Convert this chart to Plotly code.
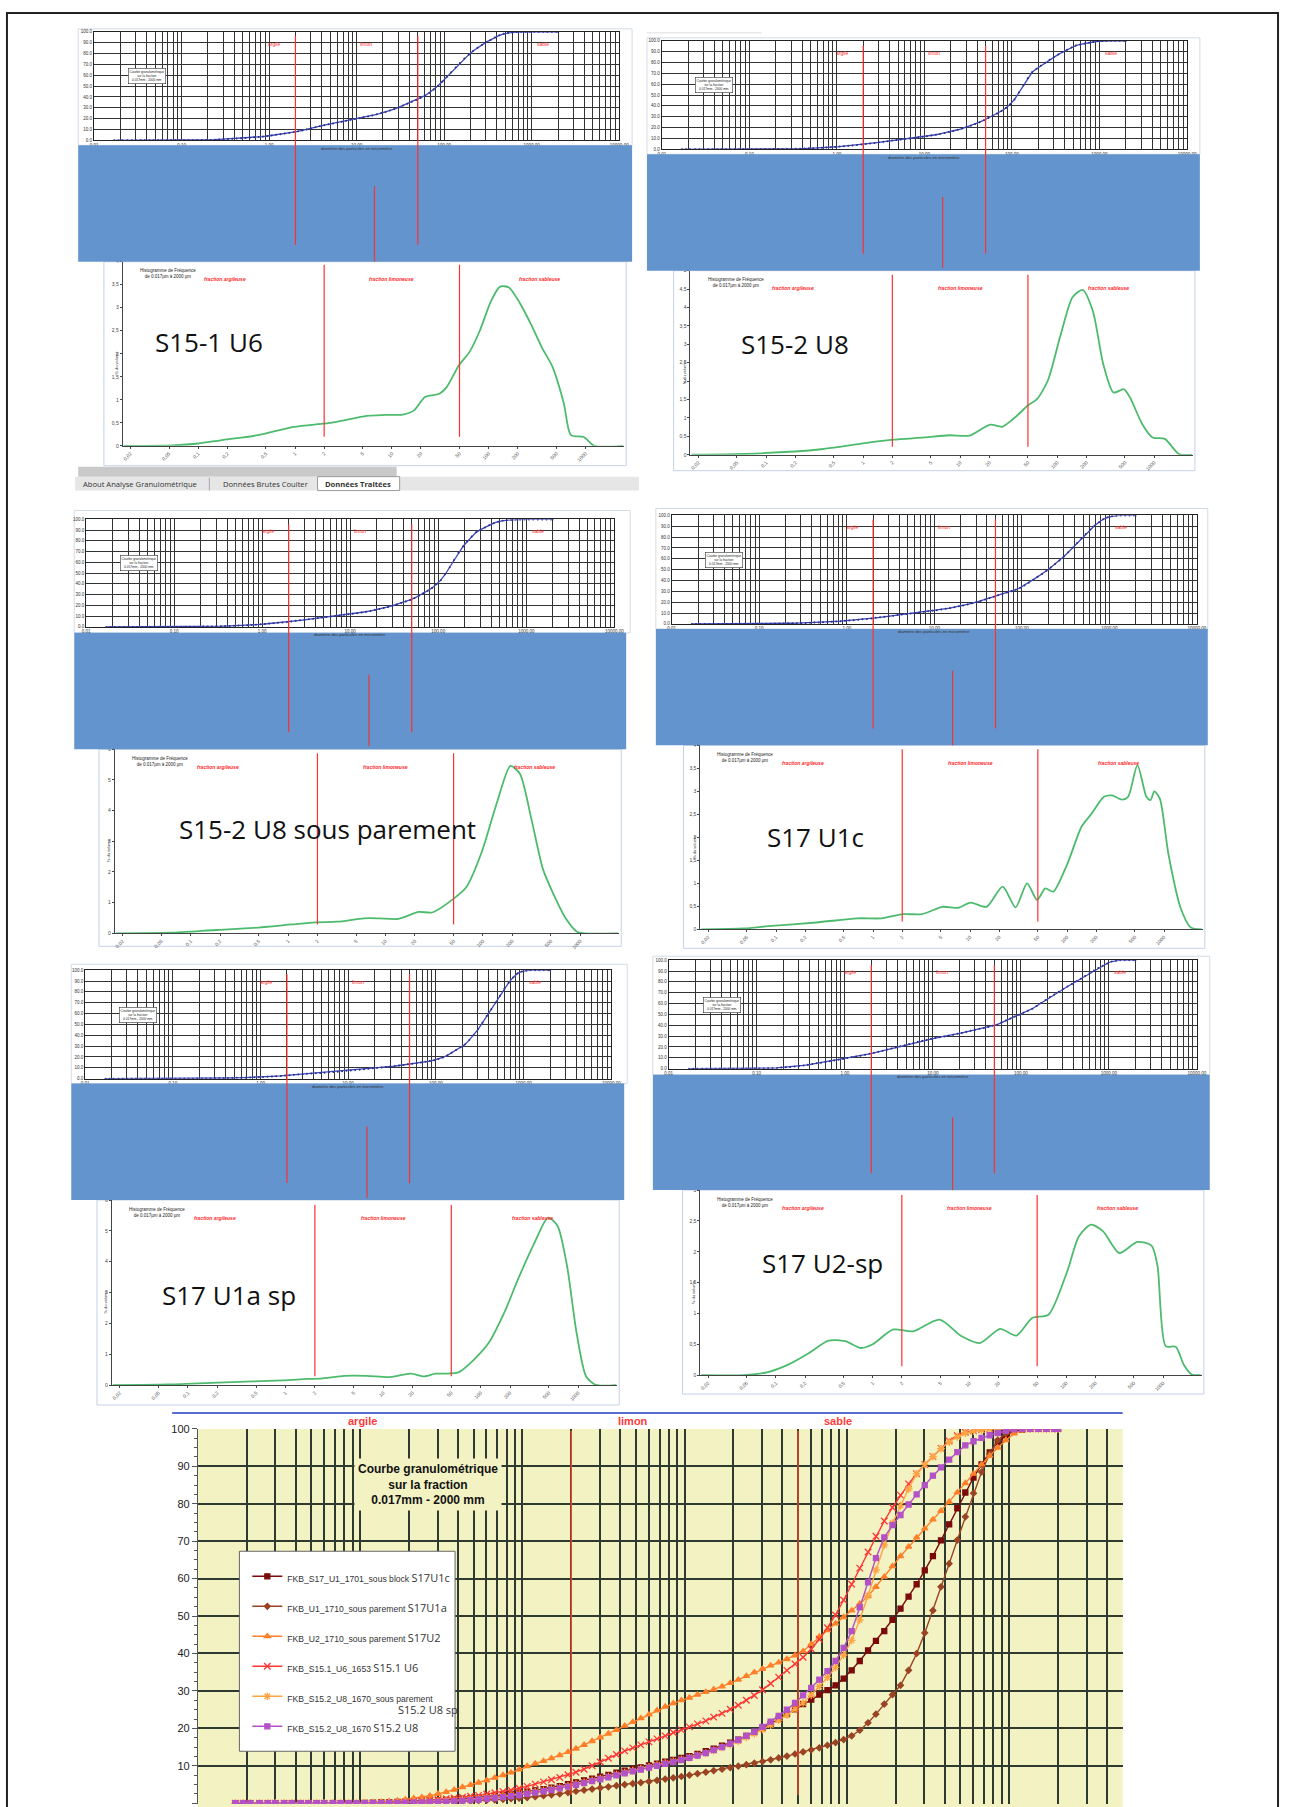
import math
import plotly.graph_objects as go

W, H = 1290, 1807

# ---------------- DATA ----------------
# particle size classes (µm) of the cumulative curves (one row per decade)
size_um = [0.017, 0.019, 0.021, 0.024, 0.027, 0.030, 0.034, 0.038, 0.043, 0.048,
           0.054, 0.060, 0.068, 0.076, 0.085, 0.095, 0.107, 0.120, 0.135, 0.151,
           0.17, 0.19, 0.214, 0.24, 0.269, 0.302, 0.339, 0.38, 0.427, 0.479,
           0.537, 0.603, 0.676, 0.759, 0.851, 0.955, 1.07, 1.20, 1.35, 1.51,
           1.70, 1.91, 2.14, 2.40, 2.69, 3.02, 3.39, 3.80, 4.27, 4.79,
           5.37, 6.03, 6.76, 7.59, 8.51, 9.55, 10.7, 12.0, 13.5, 15.1,
           17.0, 19.1, 21.4, 24.0, 26.9, 30.2, 33.9, 38.0, 42.7, 47.9,
           53.7, 60.3, 67.6, 75.9, 85.1, 95.5, 107, 120, 135, 151,
           170, 191, 214, 240, 269, 302, 339, 380, 427, 479,
           537, 603, 676, 759, 851, 955, 1072, 1202, 1349, 1514,
           1698, 1905, 2000]

# cumulative passing (%)
cum_S17U1c = [0, 0, 0, 0, 0, 0, 0, 0, 0, 0, 0, 0, 0, 0, 0, 0.05, 0.1, 0.15, 0.2, 0.27,
              0.35, 0.42, 0.5, 0.6, 0.7, 0.8, 0.9, 1.05, 1.2, 1.35, 1.5, 1.75, 2.0, 2.25, 2.5, 2.8, 3.1, 3.45, 3.8, 4.2,
              4.6, 5.1, 5.6, 6.1, 6.6, 7.1, 7.6, 8.15, 8.7, 9.15, 9.6, 10.1, 10.6, 11.1, 11.6, 12.1, 12.6, 13.2, 13.9, 14.6,
              15.4, 16.2, 17.0, 18.0, 19.0, 20.1, 21.2, 22.5, 23.8, 25.1, 26.5, 27.7, 29.0, 30.2, 31.5, 33.3, 35.5, 38.0,
              40.8, 43.4,
              46.0, 49.0, 52.0, 55.2, 58.5, 62.2, 66.0, 70.2, 74.5, 78.8, 83.0, 87.0, 90.5, 93.7, 96.5, 98.3, 99.4, 99.8,
              100, 100,
              100, 100, 100]
cum_S17U1a = [0, 0, 0, 0, 0, 0, 0, 0, 0, 0, 0, 0, 0, 0, 0, 0, 0, 0, 0, 0,
              0, 0.05, 0.1, 0.15, 0.2, 0.27, 0.35, 0.42, 0.5, 0.6, 0.7, 0.8, 0.9, 1.05, 1.2, 1.35, 1.5, 1.75, 2.0, 2.25,
              2.5, 2.85, 3.2, 3.5, 3.8, 4.1, 4.4, 4.7, 5.0, 5.25, 5.5, 5.8, 6.1, 6.45, 6.8, 7.15, 7.5, 7.9, 8.3, 8.7,
              9.1, 9.5, 9.9, 10.3, 10.7, 11.15, 11.6, 12.1, 12.6, 13.15, 13.7, 14.25, 14.8, 15.5, 16.2, 17.0, 18.0, 19.5,
              21.5, 23.8,
              26.5, 29.0, 31.5, 35.5, 40.0, 45.5, 51.5, 57.8, 64.0, 70.3, 76.5, 82.8, 88.5, 93.3, 97.0, 98.8, 99.7, 100,
              100, 100,
              100, 100, 100]
cum_S17U2 = [0, 0, 0, 0, 0, 0, 0, 0, 0, 0, 0, 0, 0, 0, 0, 0.05, 0.15, 0.25, 0.35, 0.5,
             0.7, 1.0, 1.3, 1.6, 2.0, 2.5, 3.0, 3.6, 4.3, 4.9, 5.5, 6.1, 6.8, 7.5, 8.2, 9.0, 9.9, 10.6, 11.3, 12.0,
             12.8, 13.7, 14.6, 15.6, 16.6, 17.6, 18.6, 19.6, 20.7, 21.7, 22.7, 23.7, 24.8, 25.8, 26.7, 27.5, 28.2, 29.0,
             29.7, 30.4,
             31.2, 32.1, 33.0, 34.0, 35.0, 35.9, 36.8, 37.6, 38.5, 39.5, 40.6, 42.5, 44.5, 46.2, 48.0, 49.7, 51.5, 53.3,
             55.3, 57.8,
             60.5, 63.3, 66.0, 68.5, 71.0, 73.4, 75.8, 78.1, 80.5, 83.0, 85.5, 88.0, 90.5, 92.8, 95.0, 97.0, 98.8, 99.6,
             100, 100,
             100, 100, 100]
cum_S151U6 = [0, 0, 0, 0, 0, 0, 0, 0, 0, 0, 0, 0, 0, 0, 0, 0, 0, 0, 0.05, 0.1,
              0.2, 0.3, 0.4, 0.6, 0.8, 1.0, 1.2, 1.4, 1.6, 1.85, 2.1, 2.45, 2.8, 3.1, 3.5, 4.0, 4.5, 5.1, 5.7, 6.3,
              6.9, 7.6, 8.3, 9.1, 10.0, 11.0, 12.0, 13.0, 14.0, 14.8, 15.6, 16.4, 17.2, 18.0, 18.9, 19.6, 20.4, 21.2,
              22.0, 23.0,
              24.0, 25.1, 26.2, 27.5, 28.8, 30.3, 32.0, 33.7, 35.5, 37.2, 39.0, 41.2, 43.8, 46.9, 50.3, 54.3, 58.5, 62.8,
              67.1, 71.3,
              75.4, 79.0, 82.3, 85.3, 88.0, 90.5, 92.6, 94.8, 96.8, 98.2, 99.1, 99.5, 99.8, 100, 100, 100, 100, 100,
              100, 100,
              100, 100, 100]
cum_S152U8sp = [0, 0, 0, 0, 0, 0, 0, 0, 0, 0, 0, 0, 0, 0, 0, 0, 0, 0, 0.05, 0.1,
                0.15, 0.22, 0.3, 0.37, 0.45, 0.55, 0.65, 0.77, 0.9, 1.05, 1.2, 1.4, 1.6, 1.85, 2.1, 2.4, 2.7, 3.05,
                3.4, 3.8,
                4.2, 4.65, 5.1, 5.6, 6.1, 6.6, 7.1, 7.65, 8.2, 8.7, 9.2, 9.7, 10.2, 10.7, 11.2, 11.7, 12.2, 12.8,
                13.4, 14.1,
                14.9, 15.7, 16.6, 17.6, 18.6, 19.7, 20.9, 22.2, 23.6, 25.1, 26.8, 28.9, 31.2, 33.6, 36.3, 39.6, 43.5,
                49.0, 55.5, 62.3,
                69.0, 74.8, 79.5, 84.0, 88.0, 90.5, 92.6, 94.7, 96.5, 97.9, 98.9, 99.4, 99.7, 100, 100, 100, 100, 100,
                100, 100,
                100, 100, 100]
cum_S152U8 = [0, 0, 0, 0, 0, 0, 0, 0, 0, 0, 0, 0, 0, 0, 0, 0, 0, 0, 0.05, 0.07,
              0.1, 0.15, 0.2, 0.25, 0.3, 0.37, 0.45, 0.57, 0.7, 0.85, 1.0, 1.2, 1.4, 1.65, 1.9, 2.2, 2.5, 2.85, 3.2, 3.6,
              4.0, 4.45, 4.9, 5.4, 5.9, 6.4, 6.9, 7.45, 8.0, 8.5, 9.0, 9.5, 10.0, 10.5, 11.0, 11.55, 12.1, 12.7,
              13.4, 14.2,
              15.0, 15.9, 16.9, 18.0, 19.1, 20.4, 21.8, 23.3, 25.0, 26.8, 28.8, 30.8, 33.0, 35.3, 38.0, 41.5, 46.0,
              52.3, 59.0, 65.5,
              71.0, 74.3, 77.0, 79.8, 82.5, 85.0, 87.5, 89.7, 91.8, 93.8, 95.6, 96.7, 97.6, 98.3, 98.9, 99.5, 99.9, 100,
              100, 100,
              100, 100, 100]

# frequency histograms (µm, %)
freq_S151U6_x = [0.017, 0.055, 0.1, 0.17, 0.41, 0.97, 1.94, 2.7, 5.5, 8.5, 13, 17, 22, 31, 37, 49, 63,
                 81, 106, 131, 162, 209, 274, 354, 458, 598, 708, 960, 1230, 2450]
freq_S151U6_y = [0, 0.01, 0.05, 0.12, 0.23, 0.41, 0.48, 0.52, 0.65, 0.67, 0.68, 0.77, 1.06, 1.13, 1.28, 1.74, 2.03,
                 2.5, 3.15, 3.46, 3.44, 3.11, 2.64, 2.14, 1.71, 0.92, 0.23, 0.19, 0, 0]
freq_S152U8_x = [0.017, 0.087, 0.37, 1.0, 2.05, 4.3, 7.7, 12.5, 20.4, 27, 36.6, 50.5, 62, 80, 107, 144, 183,
                 233, 299, 381, 486, 562, 755, 962, 1290, 1800, 2450]
freq_S152U8_y = [0, 0.04, 0.15, 0.31, 0.41, 0.47, 0.53, 0.52, 0.82, 0.76, 1.01, 1.35, 1.51, 2.01, 3.19, 4.28, 4.48,
                 3.91, 2.46, 1.69, 1.78, 1.56, 0.83, 0.47, 0.43, 0.02, 0]
freq_S152U8sp_x = [0.017, 0.061, 0.18, 0.44, 1.08, 1.9, 3.2, 6.0, 8.6, 13.4, 22, 30, 50.5, 68, 97.5, 140, 192,
                   240, 314, 412, 516, 708, 925, 1100, 2450]
freq_S152U8sp_y = [0, 0.02, 0.11, 0.18, 0.29, 0.36, 0.38, 0.49, 0.49, 0.47, 0.70, 0.68, 1.14, 1.52, 2.66, 4.28, 5.46,
                   5.2, 3.74, 2.11, 1.36, 0.49, 0.05, 0, 0]
freq_S17U1c_x = [0.017, 0.047, 0.083, 0.26, 0.69, 1.22, 2.05, 3.2, 5.2, 7.6, 10.1, 14.8, 21.7, 29.5, 38.7, 49.2,
                 59.6, 72, 101, 141, 180, 240, 290, 369, 426, 532, 658, 724, 795, 905, 1115, 1486, 1890, 2450]
freq_S17U1c_y = [0, 0.02, 0.07, 0.15, 0.24, 0.24, 0.33, 0.33, 0.49, 0.47, 0.58, 0.49, 0.93, 0.48, 1.0, 0.64,
                 0.89, 0.82, 1.43, 2.23, 2.52, 2.88, 2.91, 2.82, 2.88, 3.57, 2.88, 2.81, 3.0, 2.84, 1.61, 0.46, 0.04, 0]
freq_S17U1a_x = [0.017, 0.063, 0.24, 0.94, 1.69, 2.3, 4.0, 6.8, 11.7, 19.2, 26.3, 34.4, 43, 59, 85, 121, 174,
                 249, 357, 490, 614, 768, 962, 1205, 1507, 2450]
freq_S17U1a_y = [0, 0.02, 0.09, 0.15, 0.2, 0.21, 0.3, 0.3, 0.26, 0.37, 0.28, 0.37, 0.37, 0.41, 0.82, 1.37, 2.34,
                 3.53, 4.62, 5.43, 5.16, 3.86, 1.69, 0.28, 0.01, 0]
freq_S17U2_x = [0.017, 0.047, 0.083, 0.134, 0.22, 0.35, 0.52, 0.76, 1.0, 1.63, 2.6, 4.9, 8.3, 12.8, 20.7, 30.4,
                44.7, 65.5, 101, 135, 180, 240, 352, 542, 759, 875, 1062, 1350, 1635, 1980, 2450]
freq_S17U2_y = [0, 0, 0.05, 0.17, 0.36, 0.56, 0.55, 0.44, 0.5, 0.74, 0.71, 0.9, 0.63, 0.52, 0.75, 0.64,
                0.93, 0.98, 1.66, 2.25, 2.44, 2.33, 1.98, 2.16, 2.1, 1.77, 0.47, 0.46, 0.17, 0.01, 0]

legend_names = ["FKB_S17_U1_1701_sous block", "FKB_U1_1710_sous parement", "FKB_U2_1710_sous parement",
                "FKB_S15.1_U6_1653", "FKB_S15.2_U8_1670_sous parement", "FKB_S15.2_U8_1670"]
legend_short = ["S17U1c", "S17U1a", "S17U2", "S15.1 U6", "S15.2 U8 sp", "S15.2 U8"]
panel_labels = ["S15-1 U6", "S15-2 U8", "S15-2 U8 sous parement", "S17 U1c", "S17 U1a sp", "S17 U2-sp"]

top_decade_labels = ["0.01", "0.10", "1.00", "10.00", "100.00", "1000.00", "10000.00"]
freq_tick_vals = [0.02, 0.05, 0.1, 0.2, 0.5, 1, 2, 5, 10, 20, 50, 100, 200, 500, 1000]
freq_tick_text = ["0,02", "0,05", "0,1", "0,2", "0,5", "1", "2", "5", "10", "20", "50", "100", "200", "500", "1000"]
fraction_labels = ["fraction argileuse", "fraction limoneuse", "fraction sableuse"]
fraction_pos_um = [0.19, 10, 336]
zone_labels = ["argile", "limon", "sable"]
zone_pos_um = [1.15, 12.8, 1350]
limits_um = [2, 50]

# ---------------- helpers ----------------
shapes, annotations, axes = [], [], {}
fig = go.Figure()


def px(x):
    return x / W


def py(y):
    return 1 - y / H


def rect(x0, y0, x1, y1, fill=None, line=None, lw=1, layer="above"):
    shapes.append(dict(type="rect", xref="paper", yref="paper", x0=px(x0), x1=px(x1), y0=py(y1), y1=py(y0),
                       fillcolor=fill or "rgba(0,0,0,0)",
                       line=dict(color=line or "rgba(0,0,0,0)", width=lw if line else 0), layer=layer))


def seg(x0, y0, x1, y1, color, width=1, layer="above"):
    shapes.append(dict(type="line", xref="paper", yref="paper", x0=px(x0), x1=px(x1), y0=py(y0), y1=py(y1),
                       line=dict(color=color, width=width), layer=layer))


def note(x, y, text, font, xanchor="center", yanchor="middle", **kw):
    d = dict(xref="paper", yref="paper", x=px(x), y=py(y), text=text, showarrow=False, font=font,
             xanchor=xanchor, yanchor=yanchor)
    d.update(kw)
    annotations.append(d)


def set_axes(n, xr, yr, xcfg, ycfg):
    sfx = "" if n == 1 else str(n)
    xcfg.update(domain=[px(xr[0]), px(xr[1])], anchor="y" + sfx)
    ycfg.update(domain=[py(yr[1]), py(yr[0])], anchor="x" + sfx)
    axes["xaxis" + sfx] = xcfg
    axes["yaxis" + sfx] = ycfg


# ---------------- bottom comparison chart ----------------
bot_x, bot_y = (196, 1131), (1430, 1807)
grid_minor = [m * 10 ** e for e in range(-2, 4) for m in range(1, 10)]
bottom_grid = [v for v in grid_minor if v <= 5000]
narrow = "Liberation Sans Narrow, Arial Narrow, Liberation Sans, Arial, sans-serif"

rect(bot_x[0], bot_y[0], bot_x[1], bot_y[1] + 5, fill="#f2f2c3", layer="below")
seg(170, 1414, 1131, 1414, "#5a6ad0", 2)

set_axes(1, bot_x, bot_y,
         dict(type="log", range=[-2, 3.70], tickvals=bottom_grid, showticklabels=False, showgrid=True,
              gridcolor="#2e3a30", gridwidth=1.5, zeroline=False, showline=False, ticks=""),
         dict(range=[-0.2, 100], tick0=0, dtick=10, showgrid=True, gridcolor="#2e3a30", gridwidth=1.5,
              zeroline=False, showline=True, linecolor="#555", linewidth=1, ticks="outside", ticklen=5,
              tickcolor="#555", minor=dict(dtick=2.5, ticks="outside", ticklen=3, tickcolor="#555"),
              tickfont=dict(size=11, family=narrow, color="#222")))

for lim in limits_um:
    shapes.append(dict(type="line", xref="x", yref="paper", x0=lim, x1=lim, y0=py(1798), y1=py(1432),
                       line=dict(color="#ff4a2a", width=1.3), layer="above"))

for lab, x in zip(zone_labels, [362, 636, 843]):
    note(x, 1422, "<b>%s</b>" % lab, dict(size=11, color="#ff3a3a", family=narrow))

note(429, 1486, "<b>Courbe granulométrique<br>sur la fraction<br>0.017mm - 2000 mm</b>",
     dict(size=12, color="#111", family="Liberation Sans, Arial"), bgcolor="#f2f2c3", borderpad=3,
     align="center")

# legend box
rect(238, 1553, 456, 1754, fill="white", line="#666", lw=1, layer="above")

styles = [
    dict(color="#7a0a0a", symbol="square", size=5),
    dict(color="#9a4424", symbol="diamond", size=4.5),
    dict(color="#ff7f2a", symbol="triangle-up", size=5.5),
    dict(color="#ff3636", symbol="x-thin-open", size=6.5),
    dict(color="#ffa443", symbol="asterisk-open", size=6.5),
    dict(color="#b352c6", symbol="square", size=5),
]
cum_series = [cum_S17U1c, cum_S17U1a, cum_S17U2, cum_S151U6, cum_S152U8sp, cum_S152U8]
span = "<span style='font-family:Open Sans;font-size:11px'>%s</span>"
for i, (nm, sh, st, cy) in enumerate(zip(legend_names, legend_short, styles, cum_series)):
    label = nm if i == 4 else nm + " " + span % sh
    fig.add_trace(go.Scatter(
        x=size_um, y=cy, xaxis="x", yaxis="y", mode="lines+markers", name=label,
        legendgroup="g%d" % i,
        line=dict(color=st["color"], width=1.4),
        marker=dict(symbol=st["symbol"], size=st["size"], color=st["color"],
                    line=dict(color=st["color"], width=1.3)),
        hoverinfo="skip"))
# second line of the fifth legend entry
note(396, 1712, legend_short[4], dict(size=11, color="#333", family="Open Sans"), xanchor="left")

# ---------------- six analysis panels ----------------
top_grid = grid_minor + [10000]
top_grid_text = []
for v in top_grid:
    lg = math.log10(v)
    top_grid_text.append(top_decade_labels[int(round(lg)) + 2] if abs(lg - round(lg)) < 1e-9 else "")

panels = [
    dict(cum=cum_S151U6, fx=freq_S151U6_x, fy=freq_S151U6_y, ymax=4, ydt=0.5,
         top=((91, 622), (26, 135)), frame=(75, 23, 635, 140), band=(75, 140, 635, 257),
         freq=((120, 627), (257, 442)), fbox=(101, 257, 629, 462), red=(30, 240), mid=(374.5, 181, 257),
         fred=(260, 433), lab=(207.5, 338)),
    dict(cum=cum_S152U8, fx=freq_S152U8_x, fy=freq_S152U8_y, ymax=5, ydt=0.5,
         top=((665, 1196), (35, 144)), frame=(650, 32, 1209, 149), band=(650, 149, 1209, 266),
         freq=((694, 1202), (266, 451)), fbox=(677, 266, 1204, 467), red=(40, 249), mid=(949, 192, 263),
         fred=(270, 443), lab=(799.5, 340)),
    dict(cum=cum_S152U8sp, fx=freq_S152U8sp_x, fy=freq_S152U8sp_y, ymax=6, ydt=1,
         top=((83, 617), (516, 624)), frame=(71, 507, 633, 630), band=(71, 630, 629, 747),
         freq=((112, 622), (747, 932)), fbox=(96, 747, 624, 945), red=(521, 730), mid=(369, 672, 744),
         fred=(751, 923), lab=(327, 827)),
    dict(cum=cum_S17U1c, fx=freq_S17U1c_x, fy=freq_S17U1c_y, ymax=4, ydt=0.5,
         top=((675, 1206), (512, 621)), frame=(659, 505, 1217, 626), band=(659, 626, 1217, 743),
         freq=((704, 1212), (743, 928)), fbox=(687, 743, 1214, 947), red=(516, 726), mid=(959, 668, 743),
         fred=(747, 920), lab=(820.5, 835)),
    dict(cum=cum_S17U1a, fx=freq_S17U1a_x, fy=freq_S17U1a_y, ymax=6, ydt=1,
         top=((82, 614), (969, 1078)), frame=(68, 963, 630, 1083), band=(68, 1083, 627, 1200),
         freq=((109, 620), (1200, 1386)), fbox=(94, 1200, 622, 1406), red=(973, 1183), mid=(367, 1126, 1198),
         fred=(1205, 1377), lab=(227.5, 1295)),
    dict(cum=cum_S17U2, fx=freq_S17U2_x, fy=freq_S17U2_y, ymax=3, ydt=0.5,
         top=((672, 1206), (959, 1068)), frame=(656, 955, 1219, 1074), band=(656, 1074, 1219, 1190),
         freq=((704, 1211), (1190, 1376)), fbox=(686, 1190, 1213, 1395), red=(964, 1173), mid=(959, 1117, 1190),
         fred=(1195, 1367), lab=(827, 1263)),
]

tiny = dict(size=4.5, color="#333", family="Liberation Sans, Arial")

for k, p in enumerate(panels):
    nt, nf = 2 + 2 * k, 3 + 2 * k
    # frames and band
    fx0, fy0, fx1, fy1 = p["frame"]
    rect(fx0, fy0, fx1, fy1, fill="white", line="#d3dbe6", lw=1, layer="below")
    bx0, by0, bx1, by1 = p["fbox"]
    rect(bx0, by0, bx1, by1, line="#c4d2e6", lw=1, layer="below")
    b = p["band"]
    rect(b[0], b[1], b[2], b[3], fill="#6394cd", layer="above")

    # cumulative chart
    set_axes(nt, p["top"][0], p["top"][1],
             dict(type="log", range=[-2, 4], tickvals=top_grid, ticktext=top_grid_text, tickfont=tiny,
                  showgrid=True, gridcolor="#333", gridwidth=1, showline=True, linecolor="#222", mirror=True,
                  ticks="", zeroline=False, ticklabelstandoff=0),
             dict(range=[0, 100], tickvals=list(range(0, 101, 10)),
                  ticktext=["%d.0" % v for v in range(0, 101, 10)], tickfont=tiny,
                  showgrid=True, gridcolor="#333", gridwidth=1, showline=True, linecolor="#222", mirror=True,
                  ticks="", zeroline=False))
    fig.add_trace(go.Scatter(x=size_um, y=p["cum"], xaxis="x%d" % nt, yaxis="y%d" % nt, mode="lines+markers",
                             line=dict(color="#3e48b8", width=1.3), marker=dict(size=2, color="#2a2f8a"),
                             showlegend=False, hoverinfo="skip"))
    for lab, xv in zip(zone_labels, zone_pos_um):
        annotations.append(dict(xref="x%d" % nt, yref="y%d" % nt, x=math.log10(xv), y=89, text=lab,
                                xanchor="center", yanchor="middle", showarrow=False,
                                font=dict(size=5, color="#ff2a2a", family="Liberation Sans")))
    annotations.append(dict(xref="x%d" % nt, yref="y%d" % nt, x=math.log10(0.04), y=59,
                            xanchor="center", yanchor="middle",
                            text="Courbe granulométrique<br>sur la fraction<br>0.017mm - 2000 mm",
                            showarrow=False, font=dict(size=3.2, color="#222", family="Liberation Sans"),
                            bgcolor="white", bordercolor="#333", borderwidth=0.6, borderpad=1))
    annotations.append(dict(xref="x%d domain" % nt, yref="y%d domain" % nt, x=0.5, y=-0.03,
                            xanchor="center", yanchor="top",
                            text="diamètre des particules en micromètre", showarrow=False,
                            font=dict(size=4.2, color="#333", family="Liberation Sans")))
    for lim in limits_um:
        shapes.append(dict(type="line", xref="x%d" % nt, yref="paper", x0=lim, x1=lim,
                           y0=py(p["red"][1]), y1=py(p["red"][0]), line=dict(color="#ff3030", width=1.2),
                           layer="above"))
    mx, my0, my1 = p["mid"]
    seg(mx, my0, mx, my1, "#e83a3a", 1.2)

    # frequency chart
    yt = []
    v = 0.0
    while v <= p["ymax"] + 1e-9:
        yt.append(round(v, 2))
        v += p["ydt"]
    ytt = [("%g" % t).replace(".", ",") for t in yt]
    set_axes(nf, p["freq"][0], p["freq"][1],
             dict(type="log", range=[-1.78, 3.40], tickvals=freq_tick_vals, ticktext=freq_tick_text,
                  tickangle=-45, tickfont=dict(size=5, color="#555", family="Liberation Sans"),
                  showgrid=False, showline=True, linecolor="#444", linewidth=1, ticks="outside", ticklen=2,
                  tickcolor="#444", zeroline=False),
             dict(range=[0, p["ymax"]], tickvals=yt, ticktext=ytt,
                  tickfont=dict(size=5, color="#444", family="Liberation Sans"),
                  showgrid=False, showline=True, linecolor="#444", linewidth=1, ticks="outside", ticklen=2,
                  tickcolor="#444", zeroline=False))
    fig.add_trace(go.Scatter(x=p["fx"], y=p["fy"], xaxis="x%d" % nf, yaxis="y%d" % nf, mode="lines",
                             line=dict(color="#4dbb6d", width=1.8, shape="spline", smoothing=0.7),
                             showlegend=False, hoverinfo="skip"))
    for lim in limits_um:
        shapes.append(dict(type="line", xref="x%d" % nf, yref="paper", x0=lim, x1=lim,
                           y0=py(p["fred"][1]), y1=py(p["fred"][0]), line=dict(color="#ff3030", width=1.2),
                           layer="above"))
    for lab, xv in zip(fraction_labels, fraction_pos_um):
        annotations.append(dict(xref="x%d" % nf, yref="y%d domain" % nf, x=math.log10(xv), y=0.905,
                                xanchor="center", yanchor="middle",
                                text="<b><i>%s</i></b>" % lab, showarrow=False,
                                font=dict(size=5, color="#ff2a2a", family="Liberation Sans")))
    annotations.append(dict(xref="x%d domain" % nf, yref="y%d domain" % nf, x=0.03, y=0.975,
                            xanchor="left", yanchor="top",
                            text="Histogramme de Fréquence<br>de 0.017µm à 2000 µm", showarrow=False,
                            font=dict(size=4.5, color="#222", family="Liberation Sans")))
    annotations.append(dict(xref="x%d domain" % nf, yref="y%d domain" % nf, x=-0.012, y=0.45,
                            xanchor="center", yanchor="middle",
                            text="% du volume", textangle=-90, showarrow=False,
                            font=dict(size=4, color="#333", family="Liberation Sans")))
    lx, ly = p["lab"]
    note(lx, ly, panel_labels[k], dict(size=26, color="#111", family="Open Sans"))

# tab strip under the first panel
rect(75, 463, 397, 473, fill="#c9c9c9", layer="above")
rect(72, 473, 642, 487, fill="#e6e6e6", layer="above")
rect(317, 473, 400, 487, fill="white", line="#9a9a9a", lw=1, layer="above")
seg(207.6, 474, 207.6, 487, "#a8a8a8", 1)
for txt, x0 in [("About Analyse Granulométrique", 78), ("Données Brutes Coulter", 219),
                ("<b>Données Traitées</b>", 323)]:
    note(x0, 480.5, txt, dict(size=7.6, color="#333", family="Open Sans"), xanchor="left")
seg(650, 27, 766, 27, "#dddddd", 1)

# outer border
rect(3, 7, 1288, 1815, line="#222", lw=2, layer="above")

fig.update_layout(
    width=W, height=H, autosize=False, margin=dict(l=0, r=0, t=0, b=0),
    paper_bgcolor="white", plot_bgcolor="rgba(0,0,0,0)",
    shapes=shapes, annotations=annotations, showlegend=True,
    legend=dict(x=px(246), y=py(1566), xanchor="left", yanchor="top", bgcolor="rgba(0,0,0,0)",
                borderwidth=0, font=dict(size=8.6, family=narrow, color="#333"), tracegroupgap=11,
                valign="top", itemwidth=30),
    **axes)

fig.write_html("out.html", config={"displayModeBar": False},
               post_script="document.body.style.margin='0px';document.body.style.overflow='hidden';")
